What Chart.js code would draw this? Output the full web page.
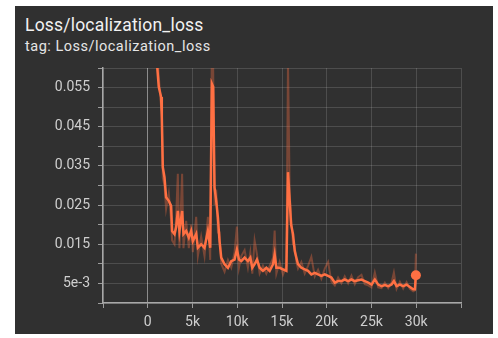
<!DOCTYPE html>
<html>
<head>
<meta charset="utf-8">
<script src="https://cdn.jsdelivr.net/npm/chart.js@4/dist/chart.umd.min.js"></script>
<style>
  html, body { margin: 0; padding: 0; background: #fff; }
  body { width: 498px; height: 338px; position: relative; overflow: hidden; font-family: Roboto, sans-serif; }
  .panel { position: absolute; left: 15px; top: 6px; width: 478px; height: 328px; background: #303030; }
  .title { position: absolute; left: 10px; top: 9px; font-size: 17.5px; line-height: 20px; letter-spacing: 0.2px; color: #f2f2f2; }
  .tag { position: absolute; left: 10px; top: 32px; font-size: 14.5px; line-height: 17px; letter-spacing: 0.5px; color: #e6e6e6; }
  .plot { position: absolute; left: 0; top: 54px; width: 478px; height: 274px; }
  .plot canvas { display: block; }
</style>
</head>
<body>
<div class="panel">
  <div class="title">Loss/localization_loss</div>
  <div class="tag">tag: Loss/localization_loss</div>
  <div class="plot"><canvas id="lossChart" width="478" height="274"></canvas></div>
</div>
<script>
// training steps and loss values
const steps = [800, 1000, 1230, 1490, 1570, 1680, 1870, 2050, 2350, 2610, 2720, 2990, 3170, 3360, 3540,
  3840, 3990, 4290, 4590, 4850, 5040, 5410, 5600, 5970, 6340, 6720, 6980, 7160, 7310, 7460, 7650, 7840,
  8020, 8210, 8580, 8960, 9330, 9700, 9960, 10190, 10450, 10820, 11190, 11460, 11680, 11940, 12200,
  12500, 12870, 13250, 13620, 14000, 14180, 14370, 14740, 15110, 15490, 15670, 15860, 16010, 16230,
  16420, 16600, 16790, 17160, 17540, 17910, 18280, 18660, 19030, 19400, 19780, 20150, 20520, 20900,
  21270, 21640, 22010, 22390, 22760, 23130, 23510, 23880, 24250, 24630, 25000, 25370, 25750, 26120,
  26490, 26870, 27240, 27500, 27800, 28170, 28540, 28920, 29290, 29660, 29850, 29960];

const smoothedLoss = [0.075, 0.062, 0.0552, 0.0526, 0.0475, 0.0347, 0.0321, 0.0270, 0.0261, 0.0248,
  0.0184, 0.0176, 0.0193, 0.0235, 0.0184, 0.0235, 0.0176, 0.0184, 0.0167, 0.0184, 0.0158, 0.0176,
  0.0141, 0.0150, 0.0141, 0.0184, 0.0141, 0.0560, 0.0552, 0.0295, 0.0261, 0.0218, 0.0158, 0.0116,
  0.0099, 0.0090, 0.0107, 0.0111, 0.0137, 0.0111, 0.0107, 0.0116, 0.0107, 0.0116, 0.0090, 0.0099,
  0.0111, 0.0090, 0.0082, 0.0090, 0.0082, 0.0099, 0.0124, 0.0090, 0.0090, 0.0086, 0.0082, 0.0334,
  0.0261, 0.0201, 0.0176, 0.0133, 0.0116, 0.0099, 0.0090, 0.0086, 0.0082, 0.0073, 0.0077, 0.0073,
  0.0069, 0.0073, 0.0069, 0.0065, 0.0052, 0.0056, 0.0056, 0.0060, 0.0056, 0.0060, 0.0056, 0.0058,
  0.0060, 0.0056, 0.0052, 0.0047, 0.0060, 0.0047, 0.0043, 0.0046, 0.0043, 0.0047, 0.0056, 0.0043,
  0.0047, 0.0043, 0.0047, 0.0041, 0.0035, 0.0035, 0.0071];

const rawLoss = [0.080, 0.066, 0.058, 0.050, 0.049, 0.032, 0.030, 0.024, 0.028, 0.021,
  0.016, 0.015, 0.022, 0.033, 0.014, 0.033, 0.014, 0.021, 0.014, 0.020, 0.013, 0.022,
  0.012, 0.017, 0.012, 0.022, 0.011, 0.065, 0.060, 0.025, 0.029, 0.018, 0.018, 0.010,
  0.008, 0.011, 0.009, 0.013, 0.0195, 0.009, 0.012, 0.0135, 0.009, 0.013, 0.0075, 0.016,
  0.0125, 0.0075, 0.0095, 0.0075, 0.0095, 0.0115, 0.0185, 0.0075, 0.0105, 0.0072, 0.0095, 0.062,
  0.028, 0.022, 0.015, 0.0145, 0.0105, 0.0088, 0.0105, 0.0075, 0.0095, 0.0118, 0.0068, 0.0085,
  0.0062, 0.0088, 0.0105, 0.0055, 0.0045, 0.0065, 0.0050, 0.0068, 0.0050, 0.0070, 0.0048, 0.0066,
  0.0072, 0.0048, 0.0045, 0.0040, 0.0078, 0.0040, 0.0038, 0.0052, 0.0038, 0.0052, 0.0078, 0.0036,
  0.0054, 0.0037, 0.0053, 0.0036, 0.0030, 0.0032, 0.0126];

const xTicks = [0, 5000, 10000, 15000, 20000, 25000, 30000];
const yLabels = ['0.055', '0.045', '0.035', '0.025', '0.015', '5e-3'];

const lineColor = '#ff7043';
const toPoints = vals => steps.map((s, i) => ({ x: s, y: vals[i] }));

const tickFont = { family: 'Roboto', size: 14 };

new Chart(document.getElementById('lossChart'), {
  type: 'line',
  data: {
    datasets: [
      {
        label: 'smoothed',
        data: toPoints(smoothedLoss),
        borderColor: lineColor,
        backgroundColor: lineColor,
        borderWidth: 2.5,
        tension: 0,
        pointRadius: ctx => (ctx.dataIndex === steps.length - 1 ? 5 : 0),
        pointBorderWidth: 0
      },
      {
        label: 'raw',
        data: toPoints(rawLoss),
        borderColor: 'rgba(255, 112, 67, 0.35)',
        borderWidth: 2,
        tension: 0,
        pointRadius: 0
      }
    ]
  },
  options: {
    responsive: false,
    animation: false,
    layout: { autoPadding: false, padding: { top: 8, right: 32, left: 0, bottom: 0 } },
    plugins: { legend: { display: false }, tooltip: { enabled: false } },
    scales: {
      x: {
        type: 'linear',
        min: -5000,
        max: 35000,
        afterBuildTicks: scale => {
          scale.ticks = [-5000, ...xTicks, 35000].map(v => ({ value: v }));
        },
        afterFit: scale => {
          scale.height = 31;
          scale.paddingLeft = 0;
          scale.paddingRight = 0;
        },
        ticks: {
          color: '#cfcfcf',
          font: tickFont,
          padding: 6,
          maxRotation: 0,
          autoSkip: false,
          callback: v => (xTicks.includes(v) ? (v === 0 ? '0' : v / 1000 + 'k') : '')
        },
        grid: {
          color: ctx => (ctx.tick && ctx.tick.value === 0 ? '#8c8c8c' : 'rgba(255,255,255,0.14)'),
          tickColor: '#9c9c9c',
          tickLength: 5
        },
        border: { color: '#a8a8a8', width: 1.5 }
      },
      y: {
        min: 0,
        max: 0.06,
        afterBuildTicks: scale => {
          const t = [];
          for (let k = 0; k <= 12; k++) t.push({ value: k * 0.005 });
          scale.ticks = t;
        },
        afterFit: scale => {
          scale.width = 88;
          scale.paddingTop = 0;
          scale.paddingBottom = 0;
        },
        ticks: {
          color: '#cfcfcf',
          font: tickFont,
          padding: 8,
          autoSkip: false,
          callback: v => {
            const k = Math.round(v * 1000);
            if (k % 10 !== 5) return '';
            return yLabels[(55 - k) / 10];
          }
        },
        grid: {
          color: 'rgba(255,255,255,0.14)',
          tickColor: '#9c9c9c',
          tickLength: 5
        },
        border: { color: '#a8a8a8', width: 1.5 }
      }
    }
  }
});
</script>
</body>
</html>
